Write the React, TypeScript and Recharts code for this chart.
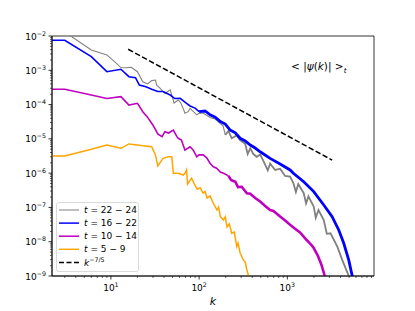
import { LineChart, Line, XAxis, YAxis, Legend, ReferenceArea, Customized } from "recharts";

// t = 22-24
const grayK = [2, 3, 6, 9, 11, 13, 15, 17, 20, 23, 26, 29, 32, 33, 36, 41, 47, 52, 58, 62, 67, 69, 75, 79, 94, 100, 112, 133, 152, 174, 187, 198, 215, 234, 267, 292, 333, 355, 380, 412, 450, 492, 530, 600, 638, 727, 828, 943, 1075, 1171, 1250, 1330, 1534, 1630, 1735, 1992, 2100, 2255, 2587, 2800, 3087, 3686, 4200, 4969, 5100];
const grayV = [1.45e-2, 1.31e-2, 3.9e-3, 2.8e-3, 1.78e-3, 1.2e-3, 1.19e-3, 1.22e-3, 9.1e-4, 4.6e-4, 4.0e-4, 5.0e-4, 5.2e-4, 3.7e-4, 3.0e-4, 2.1e-4, 2.7e-4, 1.11e-4, 1.36e-4, 1.11e-4, 7.0e-5, 5.6e-5, 6.2e-5, 7.8e-5, 5.0e-5, 5.6e-5, 5.6e-5, 4.2e-5, 3.8e-5, 2.8e-5, 2.4e-5, 1.3e-5, 1.7e-5, 1.04e-5, 1.25e-5, 9.0e-6, 7.2e-6, 3.6e-6, 5.3e-6, 3.6e-6, 3.0e-6, 3.5e-6, 2.4e-6, 1.2e-6, 1.9e-6, 1.24e-6, 1.35e-6, 8.3e-7, 7.9e-7, 5.1e-7, 2.8e-7, 4.8e-7, 2.6e-7, 1.3e-7, 2.1e-7, 1.05e-7, 5.0e-8, 8.4e-8, 4.3e-8, 1.7e-8, 1.76e-8, 7.2e-9, 2.9e-9, 1.0e-9, 8e-10];

// t = 16-22
const blueK = [2, 3, 6, 9, 13, 16, 19, 21, 25, 29, 34, 39, 47, 53, 61, 72, 79, 90, 100, 117, 133, 152, 174, 198, 225, 257, 292, 333, 380, 432, 492, 638, 828, 1075, 1171, 1534, 1992, 2587, 3218, 3825, 4360, 4969, 5440, 5600];
const blueV = [7.5e-3, 7.5e-3, 2.5e-3, 9.1e-4, 1.07e-3, 6.5e-4, 6.1e-4, 3.7e-4, 3.3e-4, 2.8e-4, 2.4e-4, 2.4e-4, 1.9e-4, 1.5e-4, 1.52e-4, 1.09e-4, 9.1e-5, 7.9e-5, 6.2e-5, 6.5e-5, 5.0e-5, 4.3e-5, 3.2e-5, 2.7e-5, 1.8e-5, 1.5e-5, 1.04e-5, 8.7e-6, 6.6e-6, 5.4e-6, 4.2e-6, 2.7e-6, 1.85e-6, 1.24e-6, 9.9e-7, 5.6e-7, 2.9e-7, 1.18e-7, 5.4e-8, 2.2e-8, 9.0e-9, 2.9e-9, 1.0e-9, 7e-10];

// t = 10-14
const magK = [2, 3, 6, 9, 13, 16, 20, 23, 26, 30, 34, 38, 41, 45, 51, 56, 58, 63, 69, 79, 86, 94, 100, 111, 122, 133, 145, 158, 174, 189, 215, 230, 257, 276, 304, 348, 380, 432, 492, 560, 638, 695, 828, 983, 1075, 1223, 1393, 1655, 1802, 1963, 2143, 2236, 2438, 2656, 2750];
const magV = [2.8e-4, 2.8e-4, 1.9e-4, 1.5e-4, 1.7e-4, 9.7e-5, 1.09e-4, 6.2e-5, 4.3e-5, 2.5e-5, 1.39e-5, 1.16e-5, 1.62e-5, 1.48e-5, 1.8e-5, 1.16e-5, 1.04e-5, 9.3e-6, 4.7e-6, 5.9e-6, 4.7e-6, 3.0e-6, 3.4e-6, 3.4e-6, 2.8e-6, 1.94e-6, 1.54e-6, 1.39e-6, 1.08e-6, 9.9e-7, 8.3e-7, 6.3e-7, 5.6e-7, 3.9e-7, 4.0e-7, 2.6e-7, 2.5e-7, 1.89e-7, 1.49e-7, 1.1e-7, 8.4e-8, 7.9e-8, 5.4e-8, 3.8e-8, 3.1e-8, 2.4e-8, 1.86e-8, 1.12e-8, 9.0e-9, 7.0e-9, 4.6e-9, 3.7e-9, 2.1e-9, 1.0e-9, 8e-10];

// t = 5-9
const orangeK = [2, 3, 6, 9, 13, 16, 29, 32, 34, 39, 45, 49, 51, 58, 66, 69, 72, 74, 82, 90, 95, 103, 111, 117, 123, 133, 145, 159, 166, 174, 189, 198, 207, 220, 234, 250, 267, 276, 292, 318, 333, 348, 363, 370];
const orangeV = [3.16e-6, 3.16e-6, 5.0e-6, 6.6e-6, 5.3e-6, 7.1e-6, 5.9e-6, 3.4e-6, 1.62e-6, 2.7e-6, 3.0e-6, 3.0e-6, 9.9e-7, 9.9e-7, 8.8e-7, 9.9e-7, 1.24e-6, 4.8e-7, 7.1e-7, 4.4e-7, 3.45e-7, 3.7e-7, 2.6e-7, 2.9e-7, 1.89e-7, 2.16e-7, 1.32e-7, 8.4e-8, 1.03e-7, 5.4e-8, 4.3e-8, 5.3e-8, 2.7e-8, 3.3e-8, 1.76e-8, 1.92e-8, 7.2e-9, 9.2e-9, 4.6e-9, 2.9e-9, 2.56e-9, 1.5e-9, 1.0e-9, 8e-10];

// k^-7/5 reference
const dashK = [15.7, 3220];
const dashV = [4.1e-3, 2.4e-6];

const xDomain = [2.15, 9600];
const yDomain = [1e-9, 1e-2];
const xTicks = [3, 4, 5, 6, 7, 8, 9, 10, 20, 30, 40, 50, 60, 70, 80, 90, 100, 200, 300, 400, 500, 600, 700, 800, 900, 1000, 2000, 3000, 4000, 5000, 6000, 7000, 8000, 9000];
const yExps = [-9, -8, -7, -6, -5, -4, -3];
const yMults = [1, 2, 3, 4, 5, 6, 7, 8, 9];
const yTicks = [...yExps.flatMap((e) => yMults.map((m) => m * Math.pow(10, e))), 1e-2];

const legendColors = ["#808080", "#0000ff", "#bf00bf", "#ffa500"];
const legendRanges = ["22 − 24", "16 − 22", "10 − 14", "5 − 9"];

const rows = (ks: number[], vs: number[]) => ks.map((k, i) => ({ k, v: vs[i] }));
// the noisy high-k tail reads as a thicker band, so it is drawn as its own segment
const lowPart = (ks: number[], vs: number[], kCut: number) => rows(ks, vs).filter((r) => r.k <= kCut);
const highPart = (ks: number[], vs: number[], kCut: number) => rows(ks, vs).filter((r) => r.k >= kCut);

const FONT = "DejaVu Sans";

function expOf(v: number) {
  const e = Math.log10(v);
  return { e: Math.round(e), major: Math.abs(e - Math.round(e)) < 1e-6 };
}

function XTick(props: any) {
  const { x, y, payload } = props;
  const { e, major } = expOf(payload.value);
  return (
    <g>
      <line x1={x} x2={x} y1={y} y2={y + (major ? 3.5 : 2)} stroke="#000" strokeWidth={major ? 0.8 : 0.6} />
      {major && (
        <text x={x} y={y + 15} textAnchor="middle" fontSize={9} fontFamily={FONT} fill="#000">
          10<tspan dy={-4} fontSize={6.3}>{String(e).replace("-", "−")}</tspan>
        </text>
      )}
    </g>
  );
}

function YTick(props: any) {
  const { x, y, payload } = props;
  const { e, major } = expOf(payload.value);
  return (
    <g>
      <line x1={x} x2={x - (major ? 3.5 : 2)} y1={y} y2={y} stroke="#000" strokeWidth={major ? 0.8 : 0.6} />
      {major && (
        <text x={x - 6} y={y + 3.5} textAnchor="end" fontSize={9} fontFamily={FONT} fill="#000">
          10<tspan dy={-4} fontSize={6.3}>{String(e).replace("-", "−")}</tspan>
        </text>
      )}
    </g>
  );
}

function LegendBox() {
  return (
    <svg width={83} height={70} style={{ display: "block" }}>
      <rect x={0.5} y={0.5} width={82} height={69} rx={2} fill="#fff" fillOpacity={0.8} stroke="#d0d0d0" strokeWidth={0.8} />
      {legendColors.map((c, i) => (
        <g key={c}>
          <line x1={3} x2={23} y1={8 + i * 13.1} y2={8 + i * 13.1} stroke={c} strokeWidth={i === 0 ? 1 : 1.5} />
          <text x={28} y={11 + i * 13.1} fontSize={9} fontFamily={FONT} fill="#000">
            <tspan fontStyle="italic">t</tspan> = {legendRanges[i]}
          </text>
        </g>
      ))}
      <line x1={3} x2={23} y1={60.5} y2={60.5} stroke="#000" strokeWidth={1.5} strokeDasharray="5 2.5" />
      <text x={28} y={63.5} fontSize={9} fontFamily={FONT} fill="#000">
        <tspan fontStyle="italic">k</tspan>
        <tspan dy={-4} fontSize={6.3}>−7/5</tspan>
      </text>
    </svg>
  );
}

function Labels() {
  return (
    <g fontFamily={FONT} fill="#000">
      <text x={291} y={70} fontSize={10.5}>
        {"< |"}
        <tspan fontStyle="italic">ψ</tspan>(<tspan fontStyle="italic">k</tspan>){"| >"}
        <tspan dy={3} fontSize={7.3} fontStyle="italic">t</tspan>
      </text>
      <text x={213} y={305} fontSize={11} fontStyle="italic" textAnchor="middle">k</text>
    </g>
  );
}

export default function App() {
  return (
    <div style={{ position: "absolute", left: 0, top: 0, width: 415, height: 311, background: "#fff" }}>
      <LineChart width={415} height={311} margin={{ top: 36, right: 41, bottom: 5, left: 12 }}>
        <XAxis
          type="number"
          dataKey="k"
          scale="log"
          domain={xDomain}
          allowDataOverflow
          ticks={xTicks}
          interval={0}
          height={30}
          tickSize={0}
          tickMargin={0}
          tickLine={false}
          axisLine={{ stroke: "#000", strokeWidth: 0.8 }}
          tick={(p: any) => <XTick {...p} />}
        />
        <YAxis
          type="number"
          scale="log"
          domain={yDomain}
          allowDataOverflow
          ticks={yTicks}
          interval={0}
          width={40}
          tickSize={0}
          tickMargin={0}
          tickLine={false}
          axisLine={{ stroke: "#000", strokeWidth: 0.8 }}
          tick={(p: any) => <YTick {...p} />}
        />
        <ReferenceArea x1={xDomain[0]} x2={xDomain[1]} y1={yDomain[0]} y2={yDomain[1]} fill="none" stroke="#000" strokeWidth={0.8} ifOverflow="visible" />
        <Line data={lowPart(grayK, grayV, 200)} dataKey="v" stroke="#808080" strokeWidth={1.1} dot={false} isAnimationActive={false} />
        <Line data={highPart(grayK, grayV, 198)} dataKey="v" stroke="#808080" strokeWidth={1.8} dot={false} isAnimationActive={false} />
        <Line data={lowPart(blueK, blueV, 100)} dataKey="v" stroke="#0000ff" strokeWidth={1.6} dot={false} isAnimationActive={false} />
        <Line data={highPart(blueK, blueV, 100)} dataKey="v" stroke="#0000ff" strokeWidth={2.8} dot={false} isAnimationActive={false} />
        <Line data={lowPart(magK, magV, 215)} dataKey="v" stroke="#bf00bf" strokeWidth={1.6} dot={false} isAnimationActive={false} />
        <Line data={highPart(magK, magV, 215)} dataKey="v" stroke="#bf00bf" strokeWidth={2.6} dot={false} isAnimationActive={false} />
        <Line data={rows(orangeK, orangeV)} dataKey="v" stroke="#ffa500" strokeWidth={1.5} dot={false} isAnimationActive={false} />
        <Line data={rows(dashK, dashV)} dataKey="v" stroke="#000" strokeWidth={1.5} strokeDasharray="5.5 2.4" dot={false} isAnimationActive={false} />
        <Legend
          layout="vertical"
          align="center"
          verticalAlign="middle"
          wrapperStyle={{ position: "absolute", left: 56, top: 202, width: 83, height: 70 }}
          content={() => <LegendBox />}
        />
        <Customized component={<Labels />} />
      </LineChart>
    </div>
  );
}
